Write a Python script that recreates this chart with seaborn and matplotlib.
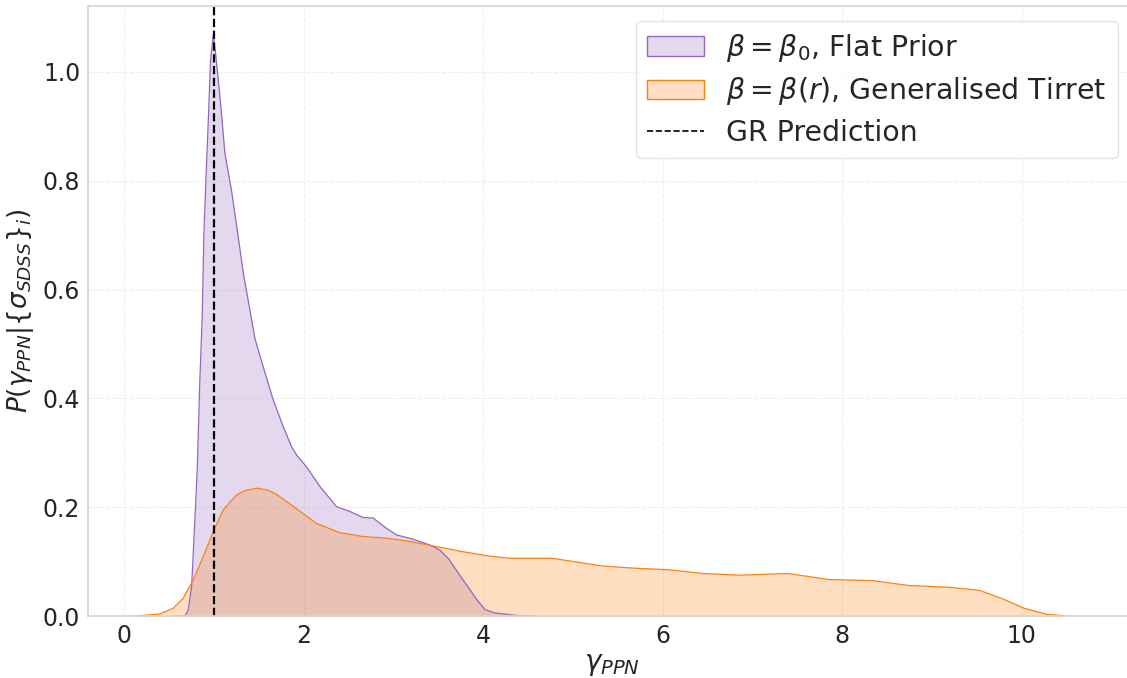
import numpy as np
import pandas as pd
import matplotlib
matplotlib.use("Agg")
import matplotlib.pyplot as plt
from matplotlib.patches import Patch
from matplotlib.lines import Line2D
import seaborn as sns

# ---- data ----
flat_x = [0.55, 0.679, 0.716, 0.754, 0.772, 0.79, 0.816, 0.846, 0.872, 0.89, 0.913,
          0.94, 0.965, 0.995, 1.021, 1.069, 1.125, 1.2, 1.27, 1.33, 1.40, 1.459,
          1.551, 1.663, 1.774, 1.867, 1.923, 2.034, 2.183, 2.368, 2.517, 2.665,
          2.776, 2.925, 3.037, 3.222, 3.408, 3.519, 3.612, 3.74, 3.83, 3.93, 4.02,
          4.12, 4.37, 4.6]
flat_y = [0.0, 0.0, 0.011, 0.054, 0.115, 0.176, 0.268, 0.434, 0.55, 0.697, 0.801,
          0.912, 1.022, 1.068, 1.034, 0.955, 0.85, 0.78, 0.70, 0.63, 0.565, 0.51,
          0.458, 0.397, 0.348, 0.311, 0.296, 0.274, 0.238, 0.201, 0.192, 0.181,
          0.18, 0.161, 0.149, 0.141, 0.1305, 0.121, 0.106, 0.075, 0.054, 0.03,
          0.012, 0.006, 0.001, 0.0]

tirret_x = [0.1, 0.178, 0.40, 0.549, 0.66, 0.772, 0.883, 0.995, 1.106, 1.18, 1.255,
            1.329, 1.477, 1.60, 1.70, 1.923, 2.146, 2.405, 2.665, 2.925, 3.185,
            3.445, 3.779, 4.076, 4.3, 4.77, 4.97, 5.32, 5.67, 6.06, 6.46, 6.85, 7.4,
            7.85, 8.34, 8.74, 9.18, 9.53, 9.78, 10.03, 10.28, 10.53]
tirret_y = [0.0, 0.0005, 0.0037, 0.014, 0.0325, 0.066, 0.109, 0.155, 0.195, 0.209,
            0.222, 0.2295, 0.235, 0.2315, 0.2235, 0.197, 0.170, 0.153, 0.146, 0.143,
            0.137, 0.1287, 0.118, 0.110, 0.106, 0.106, 0.101, 0.092, 0.088, 0.085,
            0.078, 0.075, 0.078, 0.067, 0.065, 0.056, 0.053, 0.047, 0.032, 0.014,
            0.003, 0.0]

gr_value = 1.0
labels = [r"$\beta = \beta_0$, Flat Prior",
          r"$\beta = \beta(r)$, Generalised Tirret",
          "GR Prediction"]
colors = ["#9467bd", "#ff7f0e"]

sns.set_theme(style="whitegrid")
plt.rcParams["font.family"] = ["DejaVu Sans"]
plt.rcParams["mathtext.fontset"] = "dejavusans"

fig = plt.figure(figsize=(11.27, 6.78), dpi=100)
ax = fig.add_axes([88 / 1127, 62 / 678, (1135 - 88) / 1127, 610 / 678])

for xs, ys, c in [(flat_x, flat_y, colors[0]), (tirret_x, tirret_y, colors[1])]:
    df = pd.DataFrame({"x": xs, "y": ys})
    ax.fill_between(df["x"], df["y"], color=c, alpha=0.25, linewidth=0)
    sns.lineplot(data=df, x="x", y="y", color=c, linewidth=0.9, ax=ax,
                 estimator=None, sort=True)

ax.axvline(gr_value, color="black", linestyle="--", linewidth=1.6)

ax.set_xlim(-0.4, 11.26)
ax.set_ylim(0, 1.121)
ax.set_xticks([0, 2, 4, 6, 8, 10])
ax.set_yticks([0.0, 0.2, 0.4, 0.6, 0.8, 1.0])
ax.tick_params(labelsize=17, colors=".15", length=0, pad=5.5)
ax.grid(True, linestyle="--", color="#e6e6e6", linewidth=0.8, alpha=0.7)
for s in ax.spines.values():
    s.set_color("#d5d5d5")

ax.set_xlabel(r"$\gamma_{PPN}$", fontsize=20, color=".15", labelpad=2)
ax.set_ylabel(r"$P(\gamma_{PPN}|\{\sigma_{SDSS}\}_i)$", fontsize=19, color=".15",
              labelpad=5)

handles = [
    Patch(facecolor=matplotlib.colors.to_rgba(colors[0], 0.25), edgecolor=colors[0]),
    Patch(facecolor=matplotlib.colors.to_rgba(colors[1], 0.25), edgecolor=colors[1]),
    Line2D([0], [0], color="black", linestyle="--", linewidth=1.2),
]
leg = ax.legend(handles, labels, loc="upper right", fontsize=20.4,
                bbox_to_anchor=((1118 - 88) / (1135 - 88), (616 - 20.7) / 610),
                frameon=True, borderaxespad=0, labelspacing=0.4)
leg.get_frame().set_edgecolor("#dddddd")
for t in leg.get_texts():
    t.set_color(".15")

fig.savefig("out.png", dpi=100)
